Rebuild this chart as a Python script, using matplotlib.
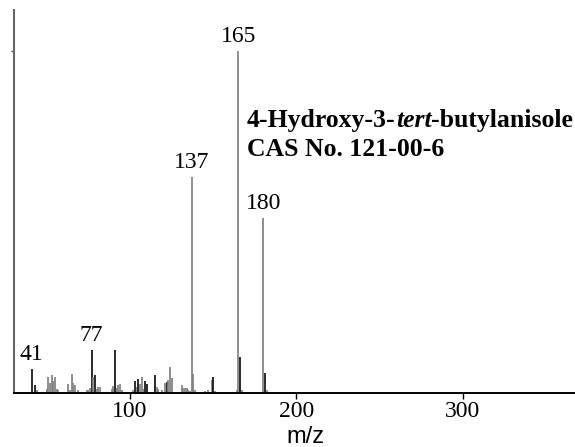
import matplotlib
matplotlib.use("Agg")
import matplotlib.pyplot as plt

# ---- data (m/z, relative intensity %) ----
mz = [41, 43, 44, 50, 51, 52, 53, 54, 55, 56, 57,
      63, 64, 65, 66, 67, 69, 74, 75, 76, 77, 78, 79, 80, 81, 82,
      89, 90, 91, 92, 93, 94, 95,
      102, 103, 104, 105, 106, 107, 108, 109, 110,
      115, 116, 117, 119, 121, 122, 123, 124, 125,
      131, 132, 133, 134, 135, 136, 137, 138, 139,
      145, 147, 149, 150, 151,
      163, 164, 165, 166, 167,
      179, 180, 181, 182]
intensity = [7.0, 2.4, 1.0, 1.2, 4.6, 3.0, 5.4, 3.5, 4.8, 1.2, 1.0,
             2.5, 1.0, 5.5, 2.8, 2.3, 1.0, 0.8, 1.0, 1.5, 12.6, 4.6, 5.2, 1.2, 1.8, 1.8,
             1.2, 2.0, 12.5, 1.5, 2.3, 2.5, 1.0,
             1.0, 3.6, 1.9, 4.1, 2.7, 4.7, 1.2, 3.6, 2.5,
             5.3, 1.8, 1.2, 1.0, 3.0, 3.3, 3.8, 7.5, 4.5,
             2.4, 1.4, 1.4, 1.6, 1.0, 0.5, 63.2, 5.6, 0.8,
             0.5, 0.8, 3.8, 4.8, 0.6,
             0.3, 1.0, 100.0, 10.6, 0.9,
             0.4, 51.2, 5.8, 0.8]
labelled = [41, 77, 137, 165, 180]
dark_peaks = [41, 43, 77, 79, 91, 103, 105, 109, 110, 115, 122, 150, 166, 181]

compound = ["4-Hydroxy-3-", "tert", "-butylanisole"]
cas_line = "CAS No. 121-00-6"
xticks = [100, 200, 300]

W, H = 575, 447
fig = plt.figure(figsize=(W / 100, H / 100), dpi=100)
ax = fig.add_axes([14 / W, (H - 393) / H, (W - 14) / W, (393 - 10) / H])

colors = ["#111111" if m in dark_peaks else "#808080" for m in mz]
ax.vlines(mz, 0, intensity, colors=colors, linewidth=1.25)

serif = "Liberation Serif"
for m, v in zip(mz, intensity):
    if m in labelled:
        ax.annotate(str(m), xy=(m, v), xytext=(0, 3), textcoords="offset points",
                    ha="center", va="bottom", fontsize=17, family=serif)

ax.set_xlim(30.3, 367.3)
ax.set_ylim(0, 112)
ax.set_xticks(xticks)
ax.set_xticklabels([str(t) for t in xticks], family=serif, fontsize=17)
ax.set_yticks([100])
ax.set_yticklabels([])
ax.tick_params(axis="x", direction="out", length=4, width=1, pad=2)
ax.tick_params(axis="y", direction="out", length=2, width=1, color="#444444")
for s in ["top", "right"]:
    ax.spines[s].set_visible(False)
ax.spines["left"].set_color("#666666")
ax.spines["left"].set_linewidth(1.5)
ax.spines["bottom"].set_linewidth(1.4)

fig.text(305 / W, 1 - 437 / H, "m/z", ha="center", va="center",
         fontsize=17, family="Liberation Sans")

# compound name
fs = 18.5
t1 = fig.text(247 / W, 1 - 132 / H, compound[0], ha="left", va="bottom",
              fontsize=fs, family=serif, weight="bold")
t2 = ax.annotate(compound[1], xy=(1, 0), xycoords=t1, ha="left", va="bottom",
                 fontsize=fs, family=serif, weight="bold", style="italic")
t3 = ax.annotate(compound[2], xy=(1, 0), xycoords=t2, ha="left", va="bottom",
                 fontsize=fs, family=serif, weight="bold")
fig.text(247 / W, 1 - 161 / H, cas_line, ha="left", va="bottom",
         fontsize=fs, family=serif, weight="bold")

fig.savefig("out.png", dpi=100)
